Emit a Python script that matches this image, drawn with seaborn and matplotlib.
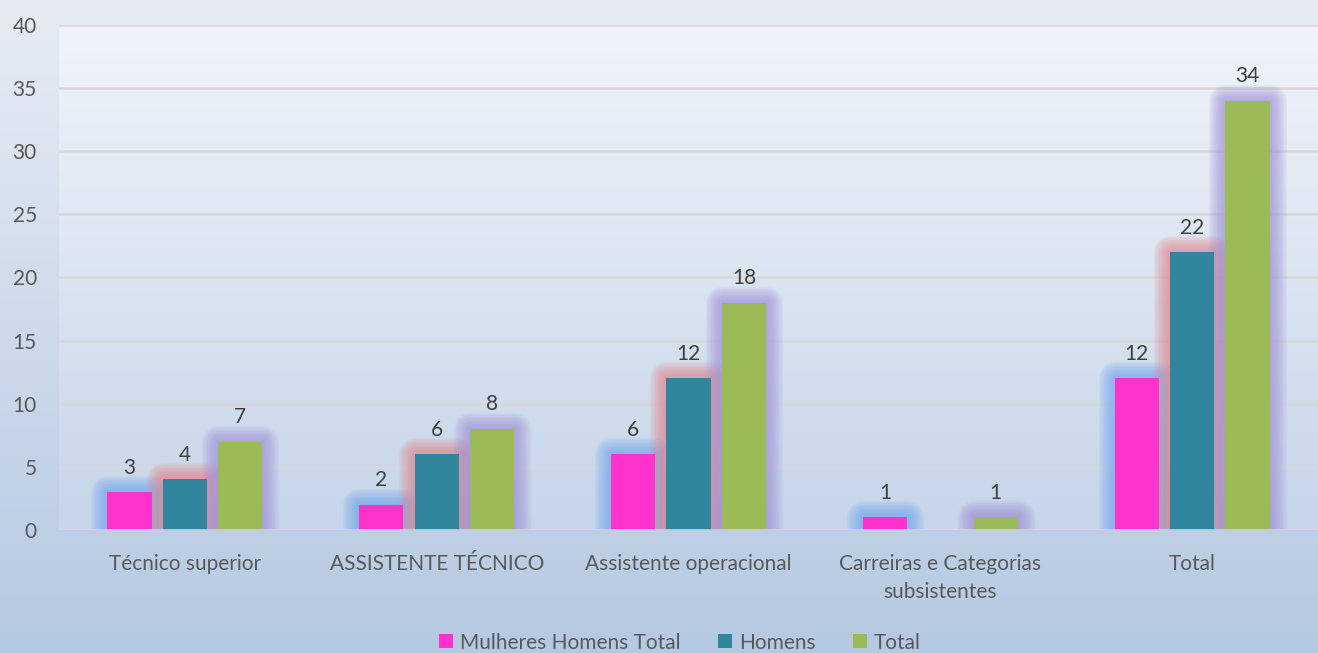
import numpy as np
import pandas as pd
import matplotlib
matplotlib.use("Agg")
import matplotlib.pyplot as plt
import seaborn as sns
from matplotlib.patches import Rectangle, Patch
from matplotlib.colors import LinearSegmentedColormap

categories = ["Técnico superior", "ASSISTENTE TÉCNICO", "Assistente operacional",
              "Carreiras e Categorias\nsubsistentes", "Total"]
series_names = ["Mulheres Homens Total", "Homens", "Total"]
mulheres = [3, 2, 6, 1, 12]
homens = [4, 6, 12, None, 22]
total = [7, 8, 18, 1, 34]

bar_colors = ["#FF33CC", "#31859C", "#9BBB59"]
glow_colors = ["#6FA6EE", "#E2848C", "#A08ED8"]

rows = []
for name, vals in zip(series_names, [mulheres, homens, total]):
    for cat, v in zip(categories, vals):
        if v is not None:
            rows.append({"categoria": cat, "serie": name, "valor": v})
df = pd.DataFrame(rows)

sns.set_theme(style="white")
plt.rcParams["font.family"] = ["Lato", "DejaVu Sans"]
text_color = "#595959"
fs = 15

fig = plt.figure(figsize=(13.18, 6.53), dpi=100)

# figure background gradient
bg = fig.add_axes([0, 0, 1, 1], zorder=-10)
bg_cmap = LinearSegmentedColormap.from_list("bg", ["#E7ECF4", "#B5C9E2"])
bg.imshow(np.linspace(0, 1, 256).reshape(-1, 1), aspect="auto", cmap=bg_cmap,
          extent=[0, 1, 0, 1], origin="upper")
bg.set_axis_off()

ax = fig.add_axes([0.0448, 0.1884, 0.9552, 0.7733])
ax.set_facecolor("none")

sns.barplot(data=df, x="categoria", y="valor", hue="serie", order=categories,
            hue_order=series_names, palette=bar_colors, width=0.66, gap=0.2,
            saturation=1, errorbar=None, ax=ax, zorder=5, linewidth=0)

ax.set_xlim(-0.5, 4.5)
ax.set_ylim(0, 40)

# plot area gradient (light at the top)
pa_cmap = LinearSegmentedColormap.from_list("pa", ["#F0F4FA", "#C6D5E9"])
ax.imshow(np.linspace(0, 1, 256).reshape(-1, 1), aspect="auto", cmap=pa_cmap,
          extent=[-0.5, 4.5, 0, 40], origin="upper", zorder=0)
ax.set_xlim(-0.5, 4.5)
ax.set_ylim(0, 40)

# soft outer glow behind each bar
for cont, gcol in zip(ax.containers, glow_colors):
    for p in cont.patches:
        h = p.get_height()
        if not np.isfinite(h) or h == 0:
            continue
        for lw in range(24, 1, -2):
            r = Rectangle((p.get_x(), 0), p.get_width(), h, fill=False,
                          edgecolor=gcol, linewidth=lw, alpha=0.085,
                          joinstyle="round", zorder=4)
            ax.add_patch(r)
    ax.bar_label(cont, padding=10.5, fontsize=fs, color="#404040")

ax.set_yticks(range(0, 41, 5))
ax.yaxis.grid(True, color="#DAD7D8", linewidth=1.8, zorder=1)
ax.set_axisbelow(True)
for s in ax.spines.values():
    s.set_visible(False)
ax.axhline(0, color="#DAD7D8", linewidth=1.8, zorder=6)
ax.tick_params(axis="both", length=0, labelsize=fs, labelcolor=text_color)
ax.tick_params(axis="y", pad=16)
ax.tick_params(axis="x", pad=17)
for t in ax.get_xticklabels():
    t.set_linespacing(1.5)
ax.set_xlabel("")
ax.set_ylabel("")
ax.get_legend().remove()

handles = [Patch(facecolor=c, edgecolor="none") for c in bar_colors]
fig.legend(handles, series_names, loc="lower center", ncol=3, frameon=False,
           fontsize=fs, labelcolor=text_color, bbox_to_anchor=(0.516, -0.028),
           handlelength=0.65, handleheight=0.65, handletextpad=0.35,
           columnspacing=1.8)

fig.savefig("out.png", dpi=100)
